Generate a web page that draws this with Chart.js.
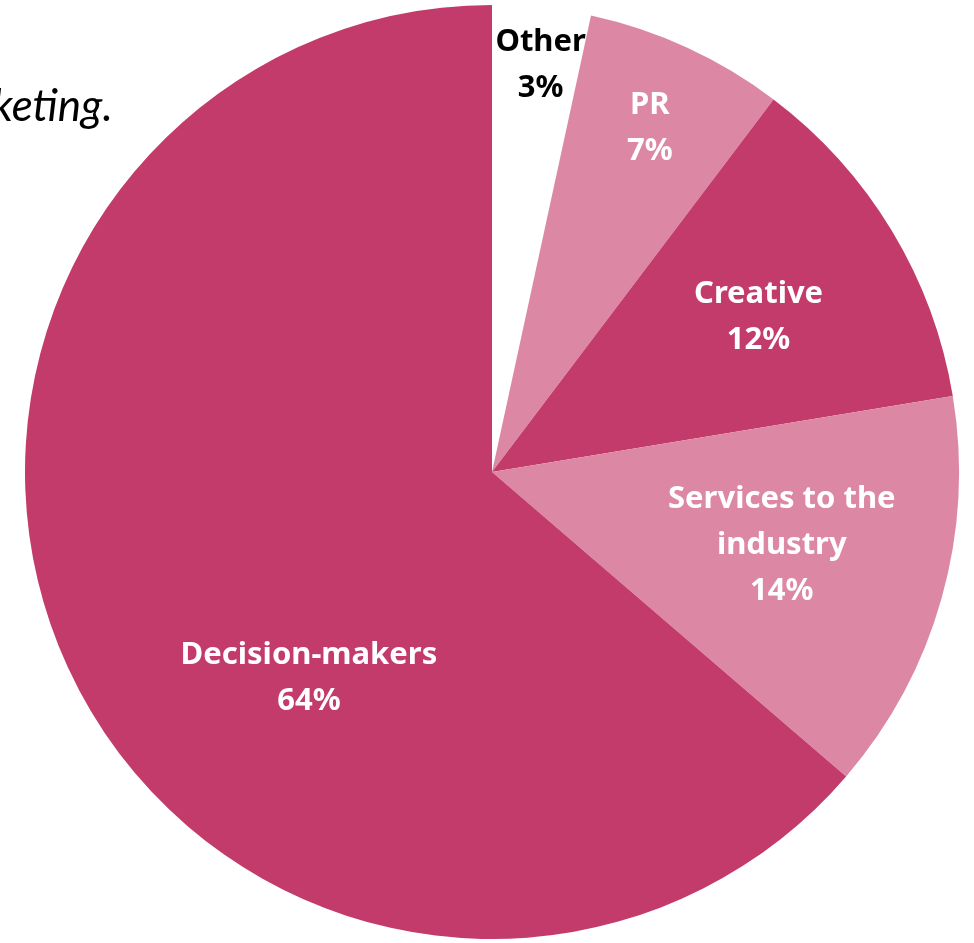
<!DOCTYPE html>
<html>
<head>
<meta charset="utf-8">
<script src="https://cdn.jsdelivr.net/npm/chart.js@4"></script>
<style>
  html, body { margin: 0; padding: 0; background: #fff; }
  #wrap { position: relative; width: 974px; height: 943px; }
</style>
</head>
<body>
<div id="wrap"><canvas id="pieChart"></canvas></div>
<script>
// --- data -----------------------------------------------------------------
var categories = ['Other', 'PR', 'Creative', 'Services to the industry', 'Decision-makers'];
var shares = [3.4, 6.9, 12.1, 13.9, 63.7];
var shareLabels = ['3%', '7%', '12%', '14%', '64%'];
var sliceColors = ['#FFFFFF', '#DC88A4', '#C33B6A', '#DC88A4', '#C33B6A'];

// label lines (category names wrapped like the original)
var labelLines = [['Other'], ['PR'], ['Creative'], ['Services to the', 'industry'], ['Decision-makers']];

// simple label plugin: text at a fraction of the radius, along the slice mid angle
var sliceLabels = {
  id: 'sliceLabels',
  afterDatasetsDraw: function (chart, args, opts) {
    var ctx = chart.ctx;
    var meta = chart.getDatasetMeta(0);
    ctx.save();
    ctx.font = 'bold 31px "Noto Sans", sans-serif';
    ctx.textAlign = 'center';
    ctx.textBaseline = 'middle';
    meta.data.forEach(function (arc, i) {
      var p = arc.getProps(['x', 'y', 'startAngle', 'endAngle', 'outerRadius'], true);
      var mid = (p.startAngle + p.endAngle) / 2 + (opts.shift[i] || 0) * Math.PI / 180;
      var r = p.outerRadius * opts.radius[i];
      var cx = p.x + Math.cos(mid) * r;
      var cy = p.y + Math.sin(mid) * r;
      var lines = labelLines[i].concat([shareLabels[i]]);
      var lh = 46;
      var y0 = cy - (lines.length - 1) * lh / 2;
      ctx.fillStyle = i === 0 ? '#000' : '#fff';
      lines.forEach(function (t, k) { ctx.fillText(t, cx, y0 + k * lh); });
    });

    // leftover caption text cut at the page edge
    ctx.font = 'italic 44px Lato, sans-serif';
    ctx.textAlign = 'left';
    ctx.textBaseline = 'alphabetic';
    ctx.fillStyle = '#000';
    ctx.fillText('keting.', -8, 121);
    ctx.restore();
  }
};

new Chart(document.getElementById('pieChart'), {
  type: 'pie',
  data: {
    labels: categories,
    datasets: [{
      data: shares,
      backgroundColor: sliceColors,
      borderWidth: 0
    }]
  },
  options: {
    responsive: true,
    maintainAspectRatio: false,
    animation: false,
    layout: { padding: { left: 25, right: 15, top: 5, bottom: 4 } },
    plugins: {
      legend: { display: false },
      tooltip: { enabled: false },
      sliceLabels: {
        radius: [0.877, 0.81, 0.66, 0.64, 0.59],
        shift: [0.7, 0, 1, -1.5, -23.7]
      }
    }
  },
  plugins: [sliceLabels]
});
</script>
</body>
</html>
